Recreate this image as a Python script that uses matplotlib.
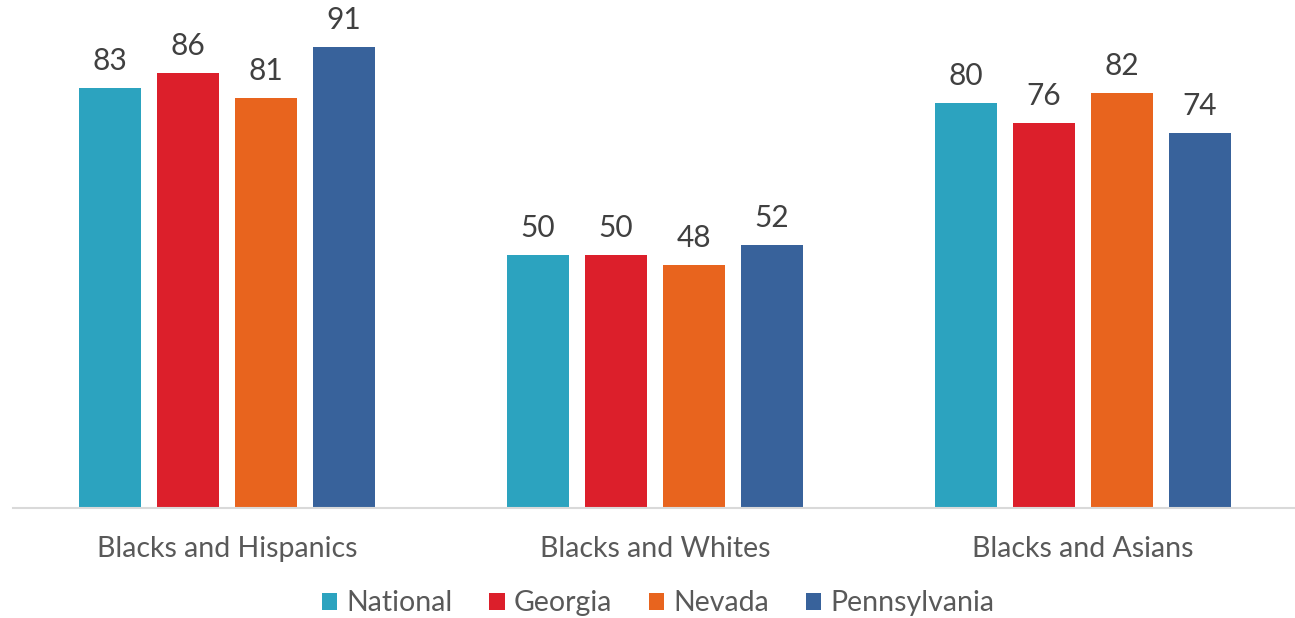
import matplotlib.pyplot as plt
import numpy as np

categories = ['Blacks and Hispanics', 'Blacks and Whites', 'Blacks and Asians']
series = ['National', 'Georgia', 'Nevada', 'Pennsylvania']
national = [83, 50, 80]
georgia = [86, 50, 76]
nevada = [81, 48, 82]
pennsylvania = [91, 52, 74]

colors = ['#2CA3BF', '#DC1F2B', '#E8641E', '#38629B']
values = [national, georgia, nevada, pennsylvania]

plt.rcParams['font.family'] = ['Lato', 'DejaVu Sans']

fig = plt.figure(figsize=(12.95, 6.18), dpi=100)
ax = fig.add_axes([0.010, 0.178, 0.9915, 0.819])

x = np.arange(len(categories))
width = 0.145
step = 0.182

for i, (name, vals) in enumerate(zip(series, values)):
    pos = x + (i - 1.5) * step
    bars = ax.bar(pos, vals, width, color=colors[i], label=name)
    for b, v in zip(bars, vals):
        ax.text(b.get_x() + b.get_width() / 2, v + 2.6, str(v),
                ha='center', va='bottom', fontsize=21.5, color='#404040')

ax.set_xlim(-0.5, 2.5)
ax.set_ylim(0, 100)
ax.set_yticks([])
ax.set_xticks(x)
ax.set_xticklabels(categories, fontsize=20.5, color='#595959')
ax.tick_params(axis='x', length=0, pad=20)
for s in ['top', 'right', 'left']:
    ax.spines[s].set_visible(False)
ax.spines['bottom'].set_color('#D9D9D9')
ax.spines['bottom'].set_linewidth(1.5)

leg = fig.legend(loc='center', bbox_to_anchor=(0.508, 0.024), ncol=4, frameon=False,
                 fontsize=20.5, handlelength=0.55, handleheight=0.55, handletextpad=0.3,
                 columnspacing=1.3)
for t in leg.get_texts():
    t.set_color('#595959')

fig.savefig('out.png', dpi=100)
